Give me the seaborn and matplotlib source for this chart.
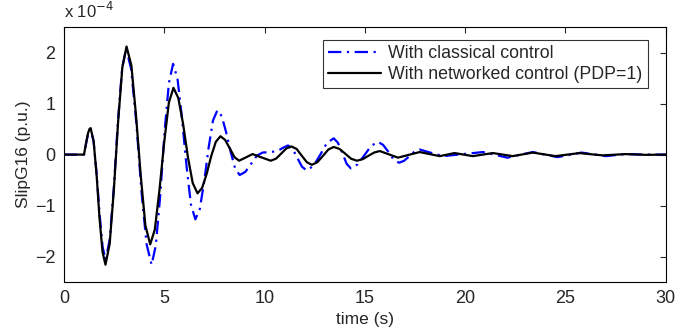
import numpy as np
import pandas as pd
import matplotlib
matplotlib.use("Agg")
import matplotlib.pyplot as plt
import seaborn as sns

# values (slip in units of 1e-4 p.u.)
t_classical = [0, 1.0, 1.1, 1.2, 1.27, 1.33, 1.48, 1.63, 1.78, 1.93, 2.08,
               2.28, 2.49, 2.69, 2.9, 3.1, 3.35, 3.61, 3.86, 4.12, 4.37,
               4.58, 4.8, 5.01, 5.23, 5.44, 5.66, 5.88, 6.11, 6.33, 6.55,
               6.77, 6.99, 7.21, 7.43, 7.65, 7.87, 8.09, 8.32, 8.54, 8.76,
               9.04, 9.33, 9.62, 9.9, 10.3, 10.65, 10.9, 11.17, 11.4, 11.64, 11.87, 12.1,
               12.44, 12.78, 13.11, 13.45, 13.66, 13.88, 14.09, 14.3, 14.64, 14.98, 15.31, 15.65,
               15.91, 16.18, 16.44, 16.7, 16.96, 17.22, 17.47, 17.73, 18.3, 18.9, 19.9, 20.88,
               21.5, 22.1, 22.73, 23.37, 23.98, 24.6, 25.2, 25.8, 26.4, 27.0, 28.0, 29.0, 30.0]
y_classical = [0, 0, 0.21, 0.40, 0.48, 0.50, 0.26, -0.38, -1.18, -1.82, -2.06,
               -1.67, -0.63, 0.65, 1.69, 2.08, 1.68, 0.62, -0.70, -1.76, -2.16,
               -1.78, -0.80, 0.42, 1.40, 1.78, 1.49, 0.73, -0.22, -0.98, -1.27,
               -1.07, -0.53, 0.13, 0.67, 0.87, 0.75, 0.43, 0.04, -0.28, -0.40,
               -0.34, -0.18, -0.02, 0.04, 0.05, 0.07, 0.13, 0.18, 0.11, -0.07, -0.24, -0.31,
               -0.22, 0.0, 0.23, 0.32, 0.23, 0.03, -0.18, -0.27, -0.19, -0.01, 0.17, 0.25,
               0.19, 0.05, -0.10, -0.16, -0.12, -0.03, 0.06, 0.10, 0.035, -0.03, 0.01, 0.05,
               -0.005, -0.06, -0.005, 0.05, 0.0, -0.05, -0.005, 0.04, 0.005, -0.03, 0.01, 0.0, 0.0]

t_networked = [0, 1.0, 1.1, 1.2, 1.27, 1.33, 1.48, 1.63, 1.77, 1.92, 2.07,
               2.28, 2.49, 2.7, 2.91, 3.12, 3.36, 3.59, 3.83, 4.06, 4.3,
               4.53, 4.76, 5.0, 5.23, 5.46, 5.7, 5.94, 6.18, 6.42, 6.66,
               6.89, 7.12, 7.34, 7.57, 7.8, 8.03, 8.27, 8.5, 8.73, 9.07, 9.4, 9.85, 10.31,
               10.57, 10.83, 11.08, 11.34, 11.6, 11.85, 12.11, 12.36, 12.63, 12.91, 13.18, 13.45,
               13.74, 14.03, 14.31, 14.6, 14.89, 15.17, 15.46, 15.74, 16.2, 16.65, 17.19, 17.73,
               18.23, 18.73, 19.1, 19.47, 19.93, 20.38, 20.88, 21.38, 21.88, 22.37, 22.87, 23.37,
               23.93, 24.5, 25.1, 25.7, 26.27, 26.85, 28.0, 29.0, 30.0]
y_networked = [0, 0, 0.22, 0.42, 0.50, 0.52, 0.26, -0.41, -1.23, -1.90, -2.16,
               -1.75, -0.68, 0.64, 1.71, 2.12, 1.75, 0.78, -0.42, -1.39, -1.76,
               -1.47, -0.70, 0.25, 1.02, 1.31, 1.11, 0.60, -0.05, -0.56, -0.76,
               -0.65, -0.37, -0.03, 0.25, 0.36, 0.29, 0.12, -0.05, -0.12, -0.055, 0.01, -0.055, -0.12,
               -0.08, 0.02, 0.12, 0.16, 0.11, -0.02, -0.15, -0.20, -0.15, -0.025, 0.10, 0.15,
               0.11, 0.015, -0.08, -0.12, -0.09, -0.025, 0.04, 0.07, 0.005, -0.06, -0.005, 0.05,
               0.01, -0.03, 0.0, 0.03, 0.0, -0.03, 0.0, 0.03, 0.0, -0.03, 0.005, 0.04,
               0.005, -0.03, 0.0, 0.03, 0.007, -0.015, 0.01, -0.005, 0.0]

label_classical = "With classical control"
label_networked = "With networked control (PDP=1)"

df = pd.concat([
    pd.DataFrame({"t": t_classical, "y": y_classical, "case": label_classical}),
    pd.DataFrame({"t": t_networked, "y": y_networked, "case": label_networked}),
])

sns.set_style("white")
plt.rcParams["font.family"] = ["Liberation Sans", "DejaVu Sans"]
plt.rcParams["axes.unicode_minus"] = True

fig = plt.figure(figsize=(6.95, 3.35), dpi=100)
ax = fig.add_axes([0.092, 0.158, 0.866, 0.761])

sns.lineplot(data=df, x="t", y="y", hue="case", style="case",
             palette={label_classical: "#0000ff", label_networked: "black"},
             dashes={label_classical: (6, 2.5, 1, 2.5), label_networked: ""},
             linewidth=1.6, sort=False, ax=ax)

ax.set_xlim(0, 30)
ax.set_ylim(-2.5, 2.5)
ax.set_xticks(np.arange(0, 31, 5))
ax.set_yticks([-2, -1, 0, 1, 2])
ax.set_xlabel("time (s)", fontsize=12.5, labelpad=3)
ax.set_ylabel("SlipG16 (p.u.)", fontsize=12.5, labelpad=3)
ax.tick_params(direction="in", top=True, right=True, length=4, width=0.8,
               labelsize=13, pad=6)
for s in ax.spines.values():
    s.set_linewidth(0.8)
    s.set_color("black")

ax.text(0.0, 1.025, r"x 10$^{-4}$", transform=ax.transAxes, fontsize=12,
        ha="left", va="bottom")

leg = ax.legend(loc="upper right", bbox_to_anchor=(0.985, 0.985), fontsize=12.8,
                frameon=True, fancybox=False, edgecolor="black", handlelength=3.0,
                borderpad=0.3, labelspacing=0.2, handletextpad=0.4)
leg.get_frame().set_linewidth(0.8)

fig.savefig("out.png", dpi=100)
